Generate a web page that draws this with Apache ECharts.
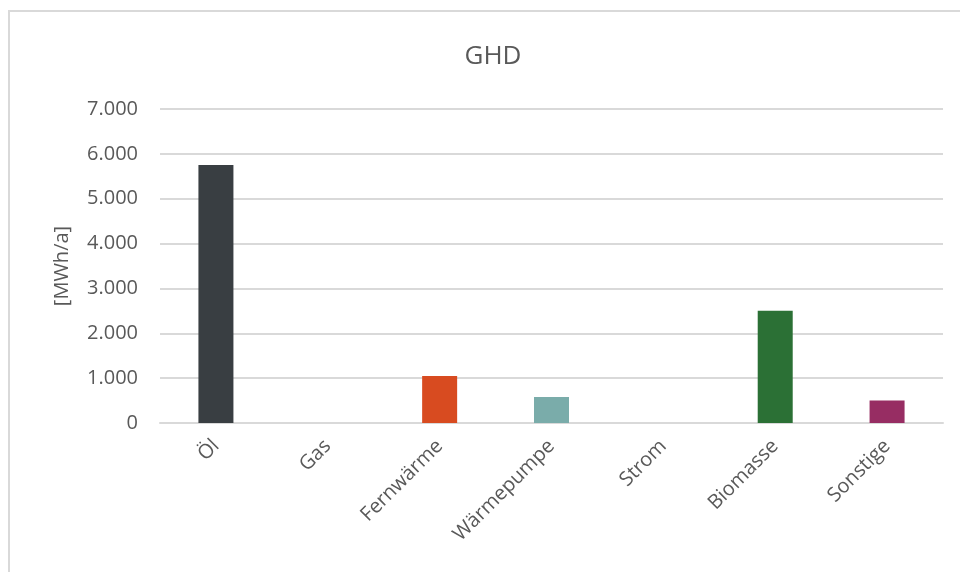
<!DOCTYPE html>
<html>
<head>
<meta charset="utf-8">
<script src="https://cdn.jsdelivr.net/npm/echarts@6/dist/echarts.min.js"></script>
<style>
  html, body { margin: 0; padding: 0; background: #fff; }
  #chart { width: 960px; height: 572px; }
</style>
</head>
<body>
<div id="chart"></div>
<script>
// Kategorien und Werte (MWh/a)
var categories = ['Öl', 'Gas', 'Fernwärme', 'Wärmepumpe', 'Strom', 'Biomasse', 'Sonstige'];
var values = [5750, 0, 1050, 580, 0, 2500, 500];
var barColors = ['#393e42', '#5b9bd5', '#d84b20', '#7aacaa', '#ffc000', '#2b7035', '#972d63'];

var textColor = '#595959';
var fontFamily = '"Open Sans", "Noto Sans", sans-serif';

function fmtDe(v) {
  return String(v).replace(/\B(?=(\d{3})+(?!\d))/g, '.');
}

var chart = echarts.init(document.getElementById('chart'), null, { renderer: 'canvas' });

var option = {
  animation: false,
  backgroundColor: '#fff',
  title: {
    text: 'GHD',
    left: 488,
    top: 39,
    textAlign: 'center',
    textStyle: {
      color: textColor,
      fontSize: 26,
      fontWeight: 'normal',
      fontFamily: fontFamily
    }
  },
  // Rahmen des Diagrammbereichs (nur links und oben sichtbar)
  graphic: [{
    type: 'polyline',
    shape: { points: [[9, 572], [9, 11], [960, 11]] },
    style: { stroke: '#d9d9d9', lineWidth: 2, fill: null },
    silent: true
  }],
  grid: {
    left: 160,
    right: 17,
    top: 109,
    bottom: 149
  },
  xAxis: {
    type: 'category',
    data: categories,
    axisLine: { lineStyle: { color: '#d9d9d9', width: 2 } },
    axisTick: { show: false },
    axisLabel: {
      interval: 0,
      rotate: 45,
      margin: 20,
      color: textColor,
      fontSize: 20,
      fontFamily: fontFamily
    }
  },
  yAxis: {
    type: 'value',
    min: 0,
    max: 7000,
    interval: 1000,
    name: '[MWh/a]',
    nameLocation: 'middle',
    nameGap: 88,
    nameRotate: 90,
    nameTextStyle: {
      color: textColor,
      fontSize: 20,
      fontFamily: fontFamily
    },
    axisLine: { show: false },
    axisTick: { show: false },
    splitLine: { lineStyle: { color: '#d9d9d9', width: 2 } },
    axisLabel: {
      margin: 22,
      color: textColor,
      fontSize: 20,
      fontFamily: fontFamily,
      formatter: fmtDe
    }
  },
  series: [{
    type: 'bar',
    barWidth: 35,
    data: values.map(function (v, i) {
      return { value: v, itemStyle: { color: barColors[i] } };
    })
  }]
};

chart.setOption(option);
</script>
</body>
</html>
